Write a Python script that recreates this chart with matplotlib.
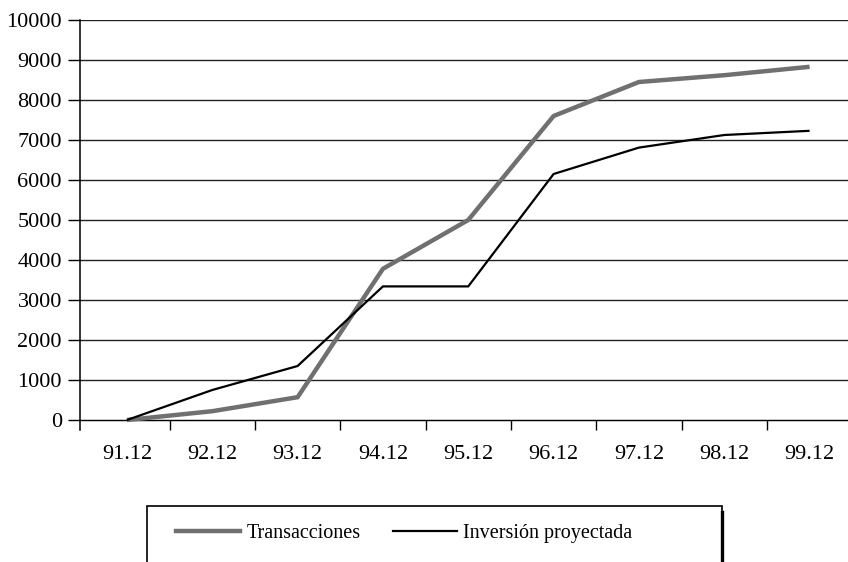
import matplotlib.pyplot as plt
from matplotlib.lines import Line2D
from matplotlib.patches import Rectangle

plt.rcParams['font.family'] = ['Liberation Serif', 'DejaVu Serif']

# Datos
periodos = ["91.12", "92.12", "93.12", "94.12", "95.12", "96.12", "97.12", "98.12", "99.12"]
transacciones = [0, 220, 570, 3780, 5000, 7600, 8450, 8620, 8830]
inversion_proyectada = [0, 750, 1350, 3340, 3340, 6150, 6810, 7125, 7230]
yticks = list(range(0, 10001, 1000))

W, H = 848, 562
fig = plt.figure(figsize=(W / 100, H / 100), dpi=100)
ax = fig.add_axes([80 / W, 1 - 430 / H, 1 - 80 / W, 410 / H])

x = list(range(len(periodos)))
ax.plot(x, transacciones, color="#707070", linewidth=3.2, solid_capstyle="butt",
        label="Transacciones", zorder=3)
ax.plot(x, inversion_proyectada, color="black", linewidth=1.6, solid_capstyle="butt",
        label="Inversión proyectada", zorder=4)

ax.set_xlim(-0.55, len(periodos) - 0.55)
ax.set_ylim(-250, 10000)

# Ejes y rejilla
ax.set_yticks(yticks)
ax.set_yticklabels([str(v) for v in yticks])
ax.yaxis.grid(True, color="#222222", linewidth=1.0)
ax.set_axisbelow(True)
ax.tick_params(axis="y", direction="out", length=9, width=1, pad=4, labelsize=16)

ax.set_xticks(x)
ax.set_xticklabels(periodos)
ax.set_xticks([i + 0.5 for i in range(len(periodos) - 1)], minor=True)
ax.tick_params(axis="x", which="major", length=0, pad=18, labelsize=16)
ax.tick_params(axis="x", which="minor", direction="out", length=7.5, width=1)

for lado in ["top", "right"]:
    ax.spines[lado].set_visible(False)
ax.spines["bottom"].set_position(("data", 0))
ax.spines["bottom"].set_color("black")
ax.spines["left"].set_linewidth(1.1)

# Leyenda (marco dibujado aparte, queda cortado por el borde inferior)
marco = Rectangle((147 / W, 1 - 570 / H), (722 - 147) / W, (570 - 506) / H,
                  transform=fig.transFigure, fill=False, edgecolor="black",
                  linewidth=1.2)
fig.add_artist(marco)
fig.add_artist(Line2D([722 / W, 722 / W], [1 - 512 / H, 0], transform=fig.transFigure,
                      color="black", linewidth=2.4))

handles = [
    Line2D([], [], color="#707070", linewidth=3.2),
    Line2D([], [], color="black", linewidth=1.6),
]
fig.legend(handles, ["Transacciones", "Inversión proyectada"],
           loc="center left", bbox_to_anchor=(176 / W, 1 - 533 / H),
           ncol=2, fontsize=14.5, frameon=False, handlelength=3.2,
           handletextpad=0.3, columnspacing=1.6, borderpad=0, borderaxespad=0)

fig.savefig("out.png", dpi=100)
